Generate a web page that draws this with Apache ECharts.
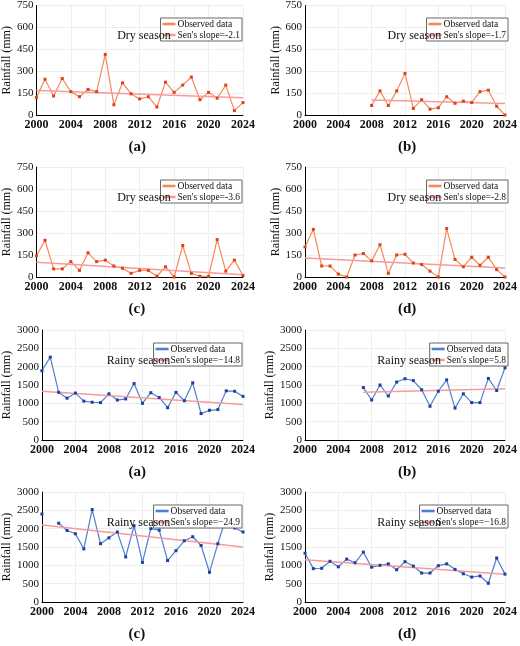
<!DOCTYPE html>
<html>
<head>
<meta charset="utf-8">
<script src="https://cdn.jsdelivr.net/npm/echarts@6/dist/echarts.min.js"></script>
<style>
body { margin: 0; background: #fff; }
#main { width: 520px; height: 646px; }
</style>
</head>
<body>
<div id="main"></div>
<script>
// 年份
var years = [];
for (var y = 2000; y <= 2024; y++) years.push(y);
var yearsB = years.slice(8);
var yearsRB = years.slice(7);

// 旱季降雨
var dryA = [120,245,130,250,160,125,175,160,415,70,220,145,110,125,55,225,155,205,260,105,155,115,205,30,85];
var dryB = [65,165,65,165,285,45,105,40,50,125,80,95,85,160,170,60,0];
var dryC = [145,250,55,55,105,45,165,105,115,75,60,25,45,45,5,70,0,215,25,5,5,255,40,115,10];
var dryD = [205,325,75,75,20,0,150,160,110,220,25,150,155,95,85,40,0,330,120,70,135,80,135,50,0];
// 雨季降雨
var rainA = [1890,2260,1300,1140,1280,1060,1030,1020,1260,1090,1120,1540,1000,1290,1160,880,1300,1070,1560,720,810,830,1340,1330,1190];
var rainB = [1430,1090,1500,1200,1580,1670,1620,1370,920,1330,1640,870,1260,1020,1020,1680,1350,1970];
var rainC = [2400,null,2150,1950,1860,1450,2520,1590,1750,1910,1230,2080,1080,2000,1960,1130,1400,1670,1780,1540,810,1590,2320,2020,1910];
var rainD = [1330,910,920,1110,960,1170,1070,1360,950,1000,1040,880,1100,980,790,790,990,1040,890,770,680,710,510,1200,760];

// 趋势线 [起点年, 起点值, 终点年, 终点值]
var trendDry = [[2000,168,2024,118],[2008,103,2024,78],[2000,100,2024,15],[2000,130,2024,62]];
var trendRain = [[2000,1330,2024,970],[2007,1300,2024,1400],[2000,2100,2024,1500],[2000,1150,2024,760]];
var slopeDry = ['-2.1','-1.7','-3.6','-2.8'];
var slopeRain = ['−14.8','5.8','−24.9','−16.8'];
var labels = ['(a)','(b)','(c)','(d)'];

var panels = [
  {x: years, v: dryA, t: trendDry[0], s: slopeDry[0], rain: false},
  {x: yearsB, v: dryB, t: trendDry[1], s: slopeDry[1], rain: false},
  {x: years, v: dryC, t: trendDry[2], s: slopeDry[2], rain: false},
  {x: years, v: dryD, t: trendDry[3], s: slopeDry[3], rain: false},
  {x: years, v: rainA, t: trendRain[0], s: slopeRain[0], rain: true},
  {x: yearsRB, v: rainB, t: trendRain[1], s: slopeRain[1], rain: true},
  {x: years, v: rainC, t: trendRain[2], s: slopeRain[2], rain: true},
  {x: years, v: rainD, t: trendRain[3], s: slopeRain[3], rain: true}
];
var tops = [5, 167, 330, 492];
var lefts = [32, 305];
var gw = [211, 204];
var gh = 110;
var font = "'Liberation Serif', 'DejaVu Serif', serif";

var grid = [], xAxis = [], yAxis = [], series = [], legend = [], title = [];
panels.forEach(function (p, i) {
  var col = i % 2, row = Math.floor(i / 2);
  var top = tops[row], left = lefts[col];
  var lineColor = p.rain ? '#4f7fd0' : '#f5895a';
  var dotColor = p.rain ? '#1f3fa0' : '#e0401a';
  grid.push({left: left, top: top, width: gw[col], height: gh});
  xAxis.push({
    type: 'value', gridIndex: i, min: 2000, max: 2024, interval: 4,
    axisLine: {lineStyle: {color: '#000'}}, axisTick: {show: false},
    axisLabel: {color: '#111', fontFamily: font, fontSize: 12, fontWeight: 'bold', margin: 4,
      formatter: function (v) { return String(v); }},
    splitLine: {lineStyle: {color: '#eee'}}
  });
  yAxis.push({
    type: 'value', gridIndex: i, min: 0, max: p.rain ? 3000 : 750, interval: p.rain ? 500 : 150,
    name: 'Rainfall (mm)', nameLocation: 'middle', nameGap: p.rain ? 26 : 20,
    nameTextStyle: {fontFamily: font, fontSize: 12, color: '#111'},
    axisLine: {show: true, lineStyle: {color: '#000'}}, axisTick: {show: false},
    axisLabel: {color: '#111', fontFamily: font, fontSize: 11, margin: 3,
      formatter: function (v) { return String(v); }},
    splitLine: {lineStyle: {color: '#eee'}}
  });
  var obsName = 'Observed data ' + i;
  var trName = "Sen's slope=" + p.s + ' ';
  series.push({
    name: obsName, type: 'line', xAxisIndex: i, yAxisIndex: i,
    data: p.x.map(function (yr, k) { return [yr, p.v[k]]; }),
    symbol: 'rect', symbolSize: 3, connectNulls: false,
    lineStyle: {color: lineColor, width: 1.2}, itemStyle: {color: dotColor}
  });
  series.push({
    name: trName, type: 'line', xAxisIndex: i, yAxisIndex: i,
    data: [[p.t[0], p.t[1]], [p.t[2], p.t[3]]], symbol: 'none',
    lineStyle: {color: '#f79a9a', width: 1.5}, itemStyle: {color: '#f79a9a'}
  });
  legend.push({
    data: [{name: obsName, icon: 'path://M0,4h10v2h-10z', itemStyle: {color: lineColor}},
           {name: trName, icon: 'path://M0,4h10v2h-10z', itemStyle: {color: '#f79a9a'}}],
    formatter: function (n) { return n.indexOf('Observed') === 0 ? 'Observed data' : n.trim(); },
    orient: 'vertical', right: 520 - left - gw[col] + 1, top: top + 13,
    itemWidth: 13, itemHeight: 5, itemGap: 1, padding: [1, 2],
    backgroundColor: '#fff', borderColor: '#666', borderWidth: 1, selectedMode: false,
    textStyle: {fontFamily: font, fontSize: 9.5, color: '#111', padding: [0, 0, 0, -3]}
  });
  title.push({
    text: p.rain ? 'Rainy season' : 'Dry season', left: left + gw[col] * (p.rain ? 0.33 : 0.38), top: top + 20,
    textStyle: {fontFamily: font, fontSize: 12, fontWeight: 'normal', color: '#111'}
  });
  title.push({
    text: labels[row % 2 * 2 + col], left: left + gw[col] / 2 - 14, top: top + gh + 20,
    textStyle: {fontFamily: font, fontSize: 15, fontWeight: 'bold', color: '#111'}
  });
});

var myChart = echarts.init(document.getElementById('main'));
var option = {
  backgroundColor: '#fff', animation: false,
  grid: grid, xAxis: xAxis, yAxis: yAxis, series: series, legend: legend, title: title
};
myChart.setOption(option);
</script>
</body>
</html>
